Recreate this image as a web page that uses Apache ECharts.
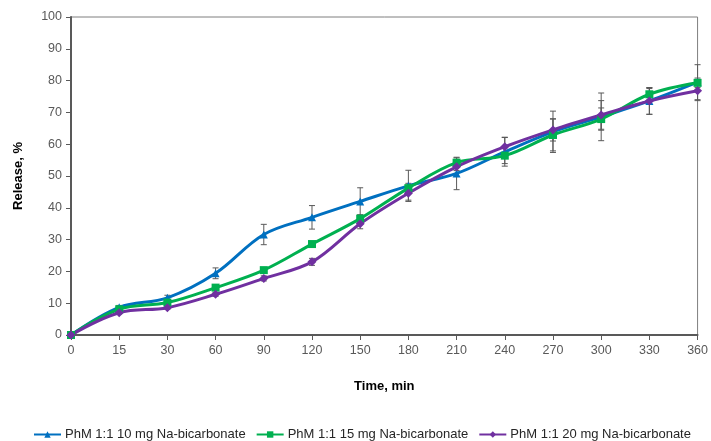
<!DOCTYPE html>
<html>
<head>
<meta charset="utf-8">
<script src="https://cdn.jsdelivr.net/npm/echarts@6/dist/echarts.min.js"></script>
<style>
  html, body { margin: 0; padding: 0; background: #fff; }
  #chart { width: 711px; height: 441px; }
</style>
</head>
<body>
<div id="chart"></div>
<script>
// time points (min)
const times = ["0", "15", "30", "60", "90", "120", "150", "180", "210", "240", "270", "300", "330", "360"];

// release, %
const release10 = [0, 8.7, 11.7, 19.4, 31.6, 37.0, 42.0, 46.9, 50.8, 57.6, 63.9, 68.6, 73.6, 79.5];
const release15 = [0, 8.1, 10.2, 14.9, 20.4, 28.6, 36.6, 46.2, 54.2, 56.4, 62.9, 67.9, 75.7, 79.3];
const release20 = [0, 7.0, 8.6, 12.8, 17.8, 23.0, 35.0, 44.6, 52.9, 59.2, 64.5, 69.2, 73.6, 76.8];

// error bars (+/-)
const err10 = [0, 0.6, 0.8, 1.7, 3.2, 3.7, 4.3, 4.9, 5.1, 4.5, 6.5, 7.5, 4.2, 5.5];
const err15 = [0, 0.4, 0.5, 0.6, 0.8, 0.8, 1.2, 1.5, 1.5, 2.5, 5.0, 3.5, 1.8, 1.5];
const err20 = [0, 0.4, 0.5, 0.6, 0.8, 1.1, 1.6, 2.2, 1.2, 3.0, 3.5, 4.5, 4.2, 3.1];

const names = [
  "PhM 1:1 10 mg Na-bicarbonate",
  "PhM 1:1 15 mg Na-bicarbonate",
  "PhM 1:1 20 mg Na-bicarbonate",
];
const colors = ["#0070C0", "#00B050", "#7030A0"];

const chart = echarts.init(document.getElementById("chart"));

// error bar as custom series
const errorSeries = (vals, errs) => ({
  type: "custom",
  silent: true,
  z: 1,
  renderItem: (params, api) => {
    const x = api.value(0);
    const lo = api.coord([x, api.value(1)]);
    const hi = api.coord([x, api.value(2)]);
    const cap = 3;
    const style = { stroke: "#595959", lineWidth: 1 };
    return {
      type: "group",
      children: [
        { type: "line", shape: { x1: lo[0], y1: lo[1], x2: hi[0], y2: hi[1] }, style },
        { type: "line", shape: { x1: lo[0] - cap, y1: lo[1], x2: lo[0] + cap, y2: lo[1] }, style },
        { type: "line", shape: { x1: hi[0] - cap, y1: hi[1], x2: hi[0] + cap, y2: hi[1] }, style },
      ],
    };
  },
  data: vals.map((v, i) => [i, v - errs[i], v + errs[i]]).filter((d) => d[2] > d[1]),
});

const lineSeries = (name, data, color, symbol, size) => ({
  name,
  type: "line",
  data,
  smooth: 0.35,
  z: 3,
  symbol,
  symbolSize: size,
  showAllSymbol: true,
  lineStyle: { color, width: 3 },
  itemStyle: { color },
});

const option = {
  animation: false,
  textStyle: { fontFamily: "Liberation Sans" },
  grid: {
    left: 71,
    right: 9,
    top: 17,
    bottom: 106,
    show: true,
    borderColor: "#7f7f7f",
    borderWidth: 1,
  },
  legend: {
    bottom: -5,
    left: 33,
    width: 678,
    itemWidth: 27,
    itemHeight: 8,
    itemGap: 10,
    padding: [5, 0, 5, 0],
    data: names,
    textStyle: { color: "#262626", fontSize: 13, fontFamily: "Liberation Sans", padding: [0, 0, 0, -1] },
  },
  xAxis: {
    type: "category",
    data: times,
    boundaryGap: false,
    name: "Time, min",
    nameLocation: "middle",
    nameGap: 45,
    nameTextStyle: { fontWeight: "bold", fontSize: 13, color: "#000" },
    axisLine: { lineStyle: { color: "#595959", width: 2 } },
    axisTick: { alignWithLabel: true, length: 5, lineStyle: { color: "#595959" } },
    axisLabel: { color: "#595959", fontSize: 12.5, margin: 9 },
    splitLine: { show: false },
  },
  yAxis: {
    type: "value",
    min: 0,
    max: 100,
    interval: 10,
    name: "Release, %",
    nameLocation: "middle",
    nameGap: 46,
    nameTextStyle: { fontWeight: "bold", fontSize: 13, color: "#000" },
    axisLine: { show: true, lineStyle: { color: "#595959", width: 2 } },
    axisTick: { show: true, length: 5, lineStyle: { color: "#595959" } },
    axisLabel: { color: "#595959", fontSize: 12.5, margin: 9 },
    splitLine: { show: false },
  },
  series: [
    errorSeries(release10, err10),
    errorSeries(release15, err15),
    errorSeries(release20, err20),
    lineSeries(names[0], release10, colors[0], "triangle", 8),
    lineSeries(names[1], release15, colors[1], "rect", 8),
    lineSeries(names[2], release20, colors[2], "diamond", 9),
  ],
};

chart.setOption(option);
</script>
</body>
</html>
